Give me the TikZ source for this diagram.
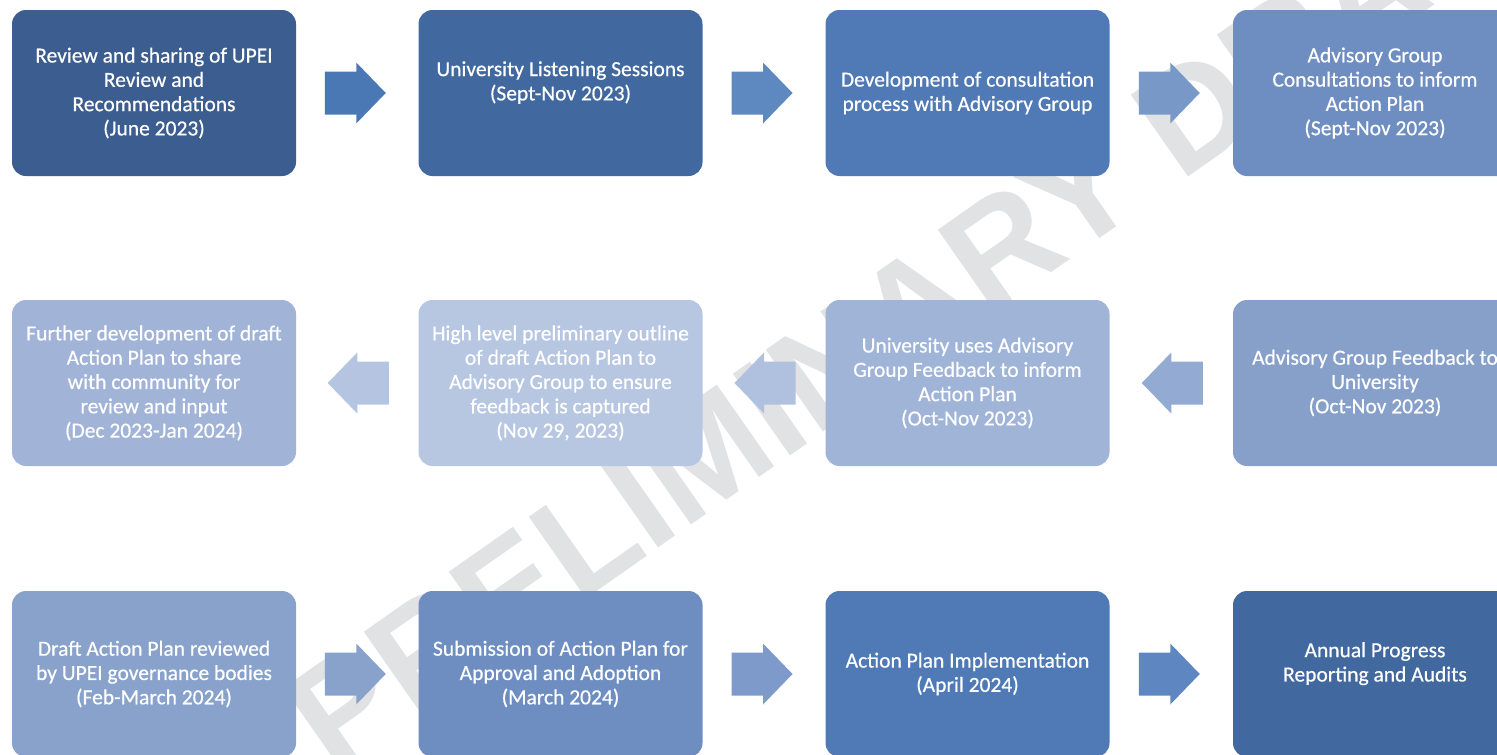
\documentclass[tikz,border=0pt]{standalone}
\usepackage{fontspec}
\setmainfont{Carlito}
\newfontfamily\boxfont{Carlito}[FakeBold=0.5]
\newfontfamily\wmfont{Liberation Sans}
\usetikzlibrary{calc}
\definecolor{c11}{HTML}{3C5D8F}
\definecolor{c12}{HTML}{41699F}
\definecolor{c13}{HTML}{507AB6}
\definecolor{c14}{HTML}{6E8EC2}
\definecolor{c21}{HTML}{A1B4D7}
\definecolor{c22}{HTML}{B7C6E1}
\definecolor{c23}{HTML}{A0B4D7}
\definecolor{c24}{HTML}{87A0C9}
\definecolor{c31}{HTML}{89A2CB}
\definecolor{c32}{HTML}{6E8EC2}
\definecolor{c33}{HTML}{507AB6}
\definecolor{c34}{HTML}{41699F}
\definecolor{a11}{HTML}{4A78B5}
\definecolor{a12}{HTML}{5D88C0}
\definecolor{a13}{HTML}{7898C8}
\definecolor{a21}{HTML}{B5C5E1}
\definecolor{a22}{HTML}{B0C1DF}
\definecolor{a23}{HTML}{93AAD3}
\definecolor{a31}{HTML}{88A2CC}
\definecolor{a32}{HTML}{7D9ACB}
\definecolor{a33}{HTML}{5E86C0}
\definecolor{wmgray}{HTML}{E1E2E4}
\tikzset{
  stage/.style={rectangle, rounded corners=14pt, minimum width=284pt, minimum height=166pt,
    inner sep=0pt, align=center, text=white, font=\fontsize{21.5}{24.3}\selectfont\boxfont},
  rarrow/.pic={\path[pic actions] (-30.5,-21.5) -- (1,-21.5) -- (1,-30.5) -- (30.5,0) -- (1,30.5) -- (1,21.5) -- (-30.5,21.5) -- cycle;},
  larrow/.pic={\path[pic actions] (30.5,-21.5) -- (-1,-21.5) -- (-1,-30.5) -- (-30.5,0) -- (-1,30.5) -- (-1,21.5) -- (30.5,21.5) -- cycle;},
  watermark/.style={rotate=35, text=wmgray, font=\fontsize{145}{145}\selectfont\wmfont\bfseries}
}
\begin{document}
\begin{tikzpicture}[x=1pt,y=1pt]
\useasboundingbox (0,0) rectangle (1497,-755);
\clip (0,0) rectangle (1497,-755);
\fill[white] (0,0) rectangle (1497,-755);
% watermark (behind)
\node[watermark] (wm) at (930,-297) {PRELIMINARY DRAFT};
% row 1
\node[stage, fill=c11] (b11) at (154,-93) {Review and sharing of UPEI\\Review and\\Recommendations\\(June 2023)};
\node[stage, fill=c12] (b12) at (560.5,-93) {University Listening Sessions\\(Sept-Nov 2023)\\\mbox{}};
\node[stage, fill=c13] (b13) at (967.5,-93) {Development of consultation\\process with Advisory Group};
\node[stage, fill=c14] (b14) at (1375,-93) {Advisory Group\\Consultations to inform\\Action Plan\\(Sept-Nov 2023)};
% row 2
\node[stage, fill=c21] (b21) at (154,-383) {Further development of draft\\Action Plan to share\\with community for\\review and input\\(Dec 2023-Jan 2024)};
\node[stage, fill=c22] (b22) at (560.5,-383) {High level preliminary outline\\of draft Action Plan to\\Advisory Group to ensure\\feedback is captured\\(Nov 29, 2023)};
\node[stage, fill=c23] (b23) at (967.5,-383) {University uses Advisory\\Group Feedback to inform\\Action Plan\\(Oct-Nov 2023)};
\node[stage, fill=c24] (b24) at (1375,-383) {Advisory Group Feedback to\\University\\(Oct-Nov 2023)};
% row 3
\node[stage, fill=c31] (b31) at (154,-674) {Draft Action Plan reviewed\\by UPEI governance bodies\\(Feb-March 2024)};
\node[stage, fill=c32] (b32) at (560.5,-674) {Submission of Action Plan for\\Approval and Adoption\\(March 2024)};
\node[stage, fill=c33] (b33) at (967.5,-674) {Action Plan Implementation\\(April 2024)};
\node[stage, fill=c34] (b34) at (1375,-674) {Annual Progress\\Reporting and Audits\\\mbox{}};
% arrows
\coordinate (m11) at ($(b11.east)!0.5!(b12.west)+(-2,0)$);
\coordinate (m12) at ($(b12.east)!0.5!(b13.west)+(-2,0)$);
\coordinate (m13) at ($(b13.east)!0.5!(b14.west)+(-2,0)$);
\coordinate (m21) at ($(b21.east)!0.5!(b22.west)+(1,0)$);
\coordinate (m22) at ($(b22.east)!0.5!(b23.west)+(1,0)$);
\coordinate (m23) at ($(b23.east)!0.5!(b24.west)+(1,0)$);
\coordinate (m31) at ($(b31.east)!0.5!(b32.west)+(-2,0)$);
\coordinate (m32) at ($(b32.east)!0.5!(b33.west)+(-2,0)$);
\coordinate (m33) at ($(b33.east)!0.5!(b34.west)+(-2,0)$);
\pic[fill=a11] at (m11) {rarrow};
\pic[fill=a12] at (m12) {rarrow};
\pic[fill=a13] at (m13) {rarrow};
\pic[fill=a21] at (m21) {larrow};
\pic[fill=a22] at (m22) {larrow};
\pic[fill=a23] at (m23) {larrow};
\pic[fill=a31] at (m31) {rarrow};
\pic[fill=a32] at (m32) {rarrow};
\pic[fill=a33] at (m33) {rarrow};
\end{tikzpicture}
\end{document}
